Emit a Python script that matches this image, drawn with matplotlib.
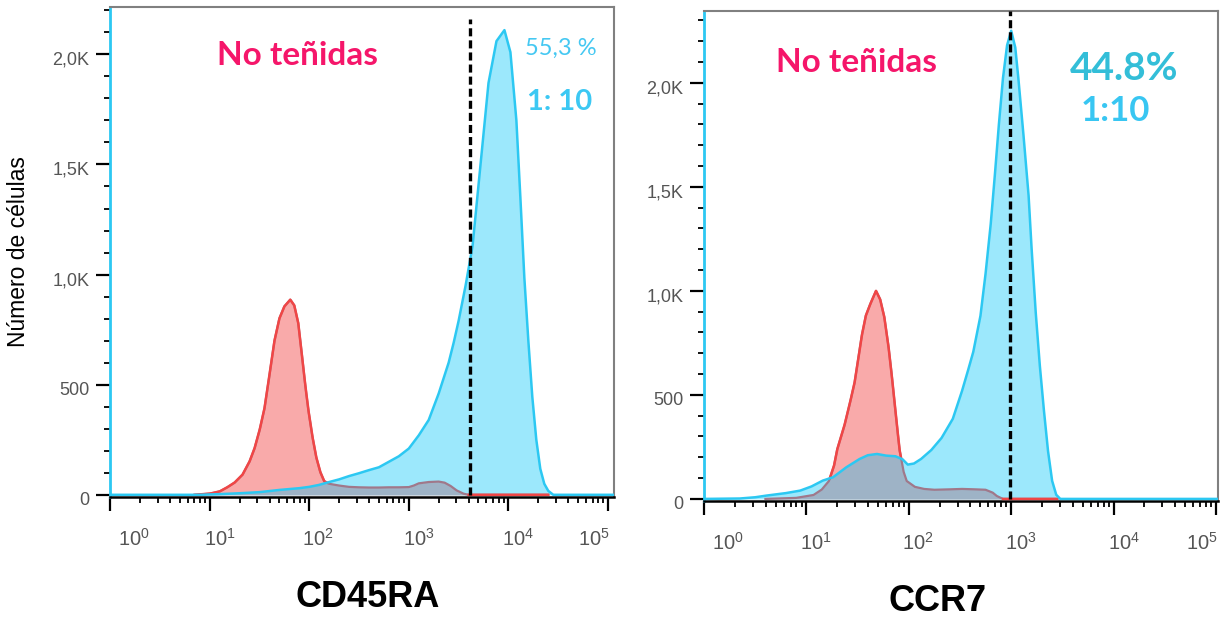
import numpy as np
import matplotlib
matplotlib.use("Agg")
import matplotlib.pyplot as plt
from matplotlib.ticker import FixedLocator, LogLocator, NullFormatter, MultipleLocator
from matplotlib.transforms import ScaledTranslation

plt.rcParams["lines.scale_dashes"] = False

# ---- CD45RA panel: log10 fluorescence positions and event counts ----
cd45ra_unstained_log = [0.85, 1.0, 1.1, 1.17, 1.25, 1.33, 1.4, 1.45, 1.5, 1.55, 1.6, 1.65,
                        1.7, 1.75, 1.81, 1.85, 1.89, 1.93, 1.96, 1.99, 2.03, 2.07, 2.11,
                        2.15, 2.2, 2.3, 2.4, 2.5, 2.6, 2.7, 2.8, 2.9, 3.0, 3.05, 3.1, 3.2,
                        3.3, 3.36, 3.42, 3.48, 3.55, 3.6, 4.4]
cd45ra_unstained_cnt = [0, 5, 15, 32, 55, 91, 150, 209, 290, 390, 540, 697,
                        800, 855, 886, 860, 780, 623, 500, 390, 270, 172, 105,
                        62, 50, 42, 36, 34, 33, 33, 34, 34, 35, 42, 52, 58,
                        60, 55, 40, 20, 5, 0, 0]
cd45ra_stained_log = [0.0, 0.9, 1.1, 1.3, 1.5, 1.7, 1.9, 2.0, 2.1, 2.2, 2.3, 2.4, 2.5,
                      2.6, 2.7, 2.8, 2.9, 3.0, 3.1, 3.2, 3.3, 3.4, 3.45, 3.5, 3.57,
                      3.64, 3.72, 3.8, 3.88, 3.96, 4.02, 4.08, 4.12, 4.16, 4.2, 4.24,
                      4.28, 4.32, 4.36, 4.4, 4.45, 5.06]
cd45ra_stained_cnt = [0, 0, 3, 7, 12, 22, 30, 36, 45, 58, 70, 85, 98,
                      112, 125, 150, 175, 210, 270, 340, 460, 600, 690, 790, 950,
                      1130, 1500, 1870, 2060, 2110, 2010, 1700, 1350, 985, 700, 444,
                      250, 118, 50, 18, 0, 0]
cd45ra_gate_log = 3.61
cd45ra_pct = "55,3 %"
cd45ra_dilution = "1: 10"

# ---- CCR7 panel ----
ccr7_unstained_log = [0.6, 0.9, 1.07, 1.15, 1.22, 1.27, 1.3, 1.37, 1.42, 1.47, 1.54, 1.58,
                      1.62, 1.68, 1.72, 1.76, 1.8, 1.83, 1.87, 1.91, 1.95, 1.98, 2.06,
                      2.15, 2.25, 2.4, 2.52, 2.65, 2.75, 2.82, 2.86, 2.92, 3.45]
ccr7_unstained_cnt = [0, 5, 19, 45, 86, 160, 236, 350, 450, 557, 782, 880,
                      932, 1000, 960, 877, 740, 612, 420, 236, 130, 86, 58,
                      48, 44, 46, 48, 46, 44, 30, 14, 0, 0]
ccr7_stained_log = [0.0, 0.35, 0.5, 0.61, 0.8, 0.94, 1.05, 1.16, 1.26, 1.39, 1.52, 1.6,
                    1.69, 1.78, 1.87, 1.94, 1.99, 2.05, 2.12, 2.22, 2.32, 2.43, 2.52,
                    2.58, 2.63, 2.7, 2.75, 2.8, 2.84, 2.88, 2.92, 2.96, 3.0, 3.04,
                    3.07, 3.12, 3.17, 3.2, 3.24, 3.28, 3.32, 3.36, 3.4, 3.44, 3.48, 5.02]
ccr7_stained_cnt = [0, 2, 8, 16, 28, 40, 60, 88, 104, 152, 192, 210,
                    216, 208, 205, 190, 165, 170, 192, 235, 293, 385, 519,
                    620, 707, 880, 1083, 1320, 1553, 1800, 2023, 2180, 2250, 2170,
                    2023, 1750, 1459, 1200, 895, 640, 425, 230, 87, 20, 0, 0]
ccr7_gate_log = 2.985
ccr7_pct = "44.8%"
ccr7_dilution = "1:10"

x_decades = [0, 1, 2, 3, 4, 5]
x_tick_labels = [r"$\mathregular{10^{%d}}$" % k for k in x_decades]
y_ticks = [0, 500, 1000, 1500, 2000]
y_tick_labels = ["0", "500", "1,0K", "1,5K", "2,0K"]

# colours
RED_LINE = "#F04646"
RED_FILL = "#F9AAAA"
MAUVE = "#A0788A"
BLUE_LINE = "#2CC8F2"
BLUE_FILL = "#9CE8FC"
OVERLAP = "#9EB3C6"
PINK_TEXT = "#F5166A"

W, H = 1220, 620
fig = plt.figure(figsize=(W / 100, H / 100), dpi=100)
ax1 = fig.add_axes([110 / W, 1 - 497 / H, 504 / W, 490 / H])
ax2 = fig.add_axes([704 / W, 1 - 501 / H, 514 / W, 490 / H])


def draw_panel(ax, red_log, red_cnt, blue_log, blue_cnt, gate_log, xmax_log, ytop, gate_top):
    red_log = np.asarray(red_log, float)
    red_cnt = np.asarray(red_cnt, float)
    blue_log = np.asarray(blue_log, float)
    blue_cnt = np.asarray(blue_cnt, float)

    ax.fill_between(10 ** red_log, 0, red_cnt, color=RED_FILL, lw=0, zorder=1)
    ax.fill_between(10 ** blue_log, 0, blue_cnt, color=BLUE_FILL, lw=0, zorder=2)

    # shared region of the two histograms
    g = np.linspace(0, xmax_log, 4000)
    rb = np.interp(g, red_log, red_cnt, left=0, right=0)
    bb = np.interp(g, blue_log, blue_cnt, left=0, right=0)
    ax.fill_between(10 ** g, 0, np.minimum(rb, bb), color=OVERLAP, lw=0, zorder=3)

    # unstained outline: muted where it sits under the stained fill
    ax.plot(10 ** red_log, red_cnt, color=MAUVE, lw=1.6, zorder=4)
    inside = (g >= red_log[0]) & (g <= red_log[-1])
    top = inside & ((rb >= bb) | (rb <= 0))
    ax.plot(10 ** g, np.where(top, rb, np.nan), color=RED_LINE, lw=1.8, zorder=4.5)

    ax.plot(10 ** blue_log, blue_cnt, color=BLUE_LINE, lw=1.8, zorder=5)
    ax.plot([10 ** gate_log] * 2, [0, gate_top], color="black", lw=2.4,
            linestyle=(0, (5.8, 2.9)), zorder=6)

    ax.set_xscale("log")
    ax.set_xlim(1, 10 ** xmax_log)
    ax.set_ylim(-10, ytop)

    ax.xaxis.set_major_locator(FixedLocator([10.0 ** k for k in x_decades]))
    ax.xaxis.set_minor_locator(LogLocator(base=10, subs=np.arange(2, 10)))
    ax.xaxis.set_minor_formatter(NullFormatter())
    ax.set_xticklabels(x_tick_labels)
    ax.yaxis.set_major_locator(FixedLocator(y_ticks))
    ax.yaxis.set_minor_locator(MultipleLocator(100))
    ax.set_yticklabels(y_tick_labels)

    ax.tick_params(which="major", direction="out", length=10, width=1.6, color="black",
                   labelcolor="#555555")
    ax.tick_params(which="minor", direction="out", length=4.5, width=1.3, color="black")
    ax.tick_params(axis="x", which="major", pad=12, labelsize=14.5)
    ax.tick_params(axis="y", which="major", pad=5, labelsize=13)

    for lbl in ax.get_xticklabels() + ax.get_yticklabels():
        lbl.set_fontfamily("Liberation Sans")

    offs = [24, 10, 9, 10, 10, -14]
    for lbl, dx in zip(ax.get_xticklabels(), offs):
        lbl.set_transform(lbl.get_transform() + ScaledTranslation(dx / 100, 0, fig.dpi_scale_trans))
    for lbl in ax.get_yticklabels():
        lbl.set_transform(lbl.get_transform() + ScaledTranslation(0, -4 / 100, fig.dpi_scale_trans))

    ax.spines["left"].set_color(BLUE_LINE)
    ax.spines["left"].set_linewidth(2.0)
    ax.spines["bottom"].set_color("black")
    ax.spines["bottom"].set_linewidth(1.8)
    for s in ("top", "right"):
        ax.spines[s].set_color("#808080")
        ax.spines[s].set_linewidth(1.5)


draw_panel(ax1, cd45ra_unstained_log, cd45ra_unstained_cnt, cd45ra_stained_log,
           cd45ra_stained_cnt, cd45ra_gate_log, 5.06, 2215, 2160)
draw_panel(ax2, ccr7_unstained_log, ccr7_unstained_cnt, ccr7_stained_log,
           ccr7_stained_cnt, ccr7_gate_log, 5.02, 2345, 2345)

# annotations
ax1.text(0.373, 0.882, "No teñidas", transform=ax1.transAxes, ha="center", va="baseline",
         fontfamily="Lato", fontweight="bold", fontsize=24, color=PINK_TEXT)
ax1.text(0.895, 0.902, cd45ra_pct, transform=ax1.transAxes, ha="center", va="baseline",
         fontfamily="Lato", fontsize=17, color="#45C8F2")
ax1.text(0.892, 0.790, cd45ra_dilution, transform=ax1.transAxes, ha="center", va="baseline",
         fontfamily="Lato", fontweight="bold", fontsize=21, color="#3CC8F3")

ax2.text(0.296, 0.876, "No teñidas", transform=ax2.transAxes, ha="center", va="baseline",
         fontfamily="Lato", fontweight="bold", fontsize=24, color=PINK_TEXT)
ax2.text(0.817, 0.859, ccr7_pct, transform=ax2.transAxes, ha="center", va="baseline",
         fontfamily="Lato", fontweight="bold", fontsize=28, color="#33BED8")
ax2.text(0.800, 0.776, ccr7_dilution, transform=ax2.transAxes, ha="center", va="baseline",
         fontfamily="Lato", fontweight="bold", fontsize=25, color="#38C6F2")

fig.text(368 / W, 1 - 607 / H, "CD45RA", ha="center", va="baseline",
         fontfamily="Liberation Sans", fontweight="bold", fontsize=26, color="black")
fig.text(938 / W, 1 - 611 / H, "CCR7", ha="center", va="baseline",
         fontfamily="Liberation Sans", fontweight="bold", fontsize=26, color="black")
fig.text(19 / W, 1 - 252 / H, "Número de células", rotation=90, ha="center", va="center",
         fontfamily="Liberation Sans", fontsize=16.5, color="black")

fig.savefig("out.png", dpi=100, facecolor="white")
